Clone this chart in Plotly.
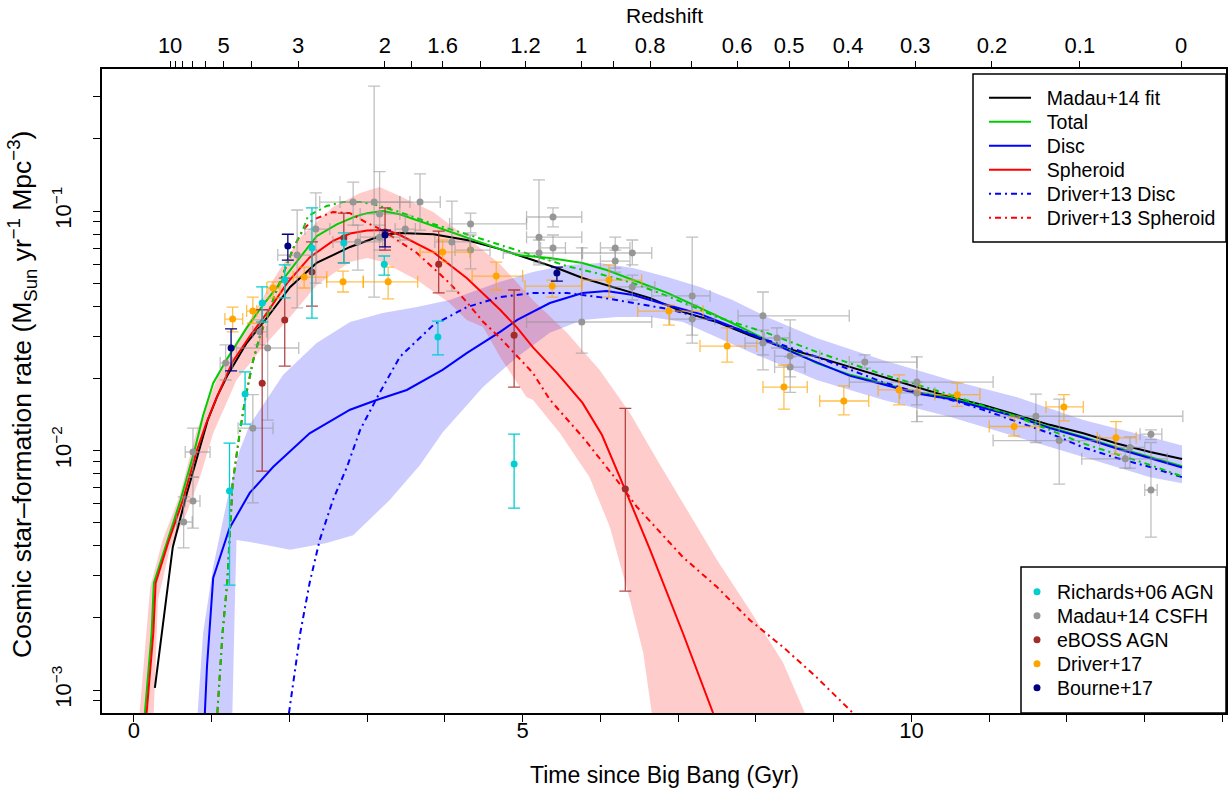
import numpy as np
import plotly.graph_objects as go

FONT = "Liberation Sans, Arial, Helvetica, sans-serif"

# ---------------- model curves: time since Big Bang (Gyr) vs SFR density ----------------
madau_t = [0.27, 0.50, 0.68, 0.85, 0.95, 1.07, 1.20, 1.45, 1.72, 2.01, 2.35, 2.78, 3.20, 3.42, 3.85,
           4.28, 4.71, 5.13, 5.44, 5.77, 6.21, 6.64, 7.06, 7.50, 7.92, 8.35, 8.78, 9.21, 9.63, 10.07,
           10.50, 10.92, 11.36, 11.78, 12.21, 12.64, 13.07, 13.48]
madau_y = [0.00102, 0.00395, 0.0066, 0.0103, 0.0134, 0.0168, 0.0205, 0.0281, 0.0361, 0.0482, 0.0607,
           0.0708, 0.0794, 0.0810, 0.0800, 0.0757, 0.0693, 0.0624, 0.0578, 0.0525, 0.0477, 0.0433,
           0.0379, 0.0344, 0.0303, 0.0270, 0.0246, 0.0223, 0.0203, 0.0184, 0.0167, 0.0155, 0.0141,
           0.0128, 0.0118, 0.0107, 0.00985, 0.00922]

total_t = [0.118, 0.228, 0.257, 0.42, 0.60, 0.78, 0.89, 1.02, 1.20, 1.45, 1.66, 1.92, 2.14, 2.35, 2.61,
           2.85, 3.00, 3.20, 3.42, 3.85, 4.28, 4.71, 4.93, 5.35, 5.77, 6.08, 6.42, 6.86, 7.28, 7.70,
           8.14, 8.57, 8.78, 9.21, 9.63, 10.07, 10.50, 10.92, 11.36, 11.78, 12.21, 12.64, 13.07, 13.48]
total_y = [0.00065, 0.00173, 0.0028, 0.00411, 0.00621, 0.0100, 0.0140, 0.0191, 0.0242, 0.0325, 0.0405,
           0.0520, 0.0645, 0.0785, 0.0880, 0.0950, 0.098, 0.100, 0.097, 0.0866, 0.0771, 0.0693, 0.0655,
           0.0637, 0.0607, 0.0567, 0.0515, 0.0455, 0.0394, 0.0340, 0.0289, 0.0251, 0.0232, 0.0207,
           0.0191, 0.0175, 0.0166, 0.0152, 0.0139, 0.0125, 0.0114, 0.0103, 0.0094, 0.0086]

disc_t = [0.90, 0.94, 1.02, 1.23, 1.49, 1.79, 2.26, 2.78, 3.13, 3.51, 3.97, 4.28, 4.71, 4.93, 5.35, 5.77,
          6.08, 6.42, 6.86, 7.28, 7.70, 8.14, 8.57, 9.21, 9.63, 10.07, 10.50, 10.92, 11.36, 11.78,
          12.21, 12.64, 13.07, 13.48]
disc_y = [0.00065, 0.00125, 0.00294, 0.00474, 0.00665, 0.00853, 0.0118, 0.0148, 0.0163, 0.0179, 0.0217,
          0.0255, 0.0313, 0.0351, 0.0413, 0.0455, 0.0464, 0.0446, 0.0405, 0.0372, 0.0328, 0.0287,
          0.0249, 0.0205, 0.0189, 0.0173, 0.0164, 0.0151, 0.0138, 0.0124, 0.0113, 0.0102, 0.0093, 0.0085]

sph_t = [0.14, 0.25, 0.28, 0.44, 0.63, 0.81, 0.93, 1.07, 1.27, 1.49, 1.71, 1.97, 2.26, 2.56, 2.78, 3.00,
         3.25, 3.42, 3.85, 4.28, 4.71, 4.93, 5.13, 5.44, 5.77, 6.02, 6.32, 6.64, 7.06, 7.45, 7.54]
sph_y = [0.00065, 0.00173, 0.0028, 0.00411, 0.00621, 0.0100, 0.0130, 0.0168, 0.0235, 0.0300, 0.0375,
         0.0500, 0.0640, 0.0750, 0.0805, 0.0830, 0.0833, 0.0794, 0.0674, 0.0525, 0.0387, 0.0325, 0.0270,
         0.0211, 0.0158, 0.0116, 0.00684, 0.00384, 0.00173, 0.00080, 0.00065]

# uncertainty bands
sph_band_up_t = [0.05, 0.21, 0.37, 0.59, 0.81, 1.11, 1.49, 1.79, 2.14, 2.56, 2.91, 3.16, 3.42, 3.85, 4.28,
                 4.71, 5.13, 5.57, 5.99, 6.38, 6.73, 7.06, 7.50, 7.92, 8.35, 8.63, 8.72]
sph_band_up_y = [0.00065, 0.00269, 0.00423, 0.0065, 0.0122, 0.0215, 0.0351, 0.0515, 0.0778, 0.104, 0.119,
                 0.126, 0.1156, 0.099, 0.0778, 0.060, 0.0425, 0.031, 0.0217, 0.01435, 0.00912, 0.00604,
                 0.00349, 0.00216, 0.0013, 0.00080, 0.00065]
sph_band_lo_t = [0.245, 0.31, 0.46, 0.68, 0.85, 1.02, 1.32, 1.66, 2.01, 2.35, 2.78, 3.00, 3.20, 3.64, 4.06,
                 4.28, 4.49, 4.71, 5.05, 5.13, 5.48, 5.86, 6.12, 6.38, 6.55, 6.66, 6.70]
sph_band_lo_y = [0.00065, 0.00238, 0.00385, 0.00548, 0.00774, 0.0118, 0.0197, 0.027, 0.0361, 0.049, 0.0612,
                 0.0637, 0.0612, 0.0515, 0.0413, 0.0351, 0.0328, 0.0246, 0.0167, 0.0163, 0.0118, 0.00774,
                 0.0048, 0.00238, 0.00143, 0.00080, 0.00065]

disc_band_up_t = [0.80, 0.89, 1.02, 1.20, 1.36, 1.49, 1.92, 2.35, 2.78, 3.20, 3.64, 4.06, 4.71, 5.13, 5.57,
                  5.99, 6.42, 6.86, 7.28, 7.70, 8.14, 8.78, 9.63, 10.50, 11.36, 12.21, 13.07, 13.48]
disc_band_up_y = [0.00065, 0.00173, 0.00327, 0.00621, 0.0100, 0.0128, 0.0207, 0.0281, 0.0344, 0.0375,
                  0.0397, 0.0425, 0.0506, 0.0556, 0.0595, 0.0607, 0.0578, 0.053, 0.0482, 0.0425, 0.0361,
                  0.0295, 0.0239, 0.0197, 0.0167, 0.0134, 0.0114, 0.0105]
disc_band_lo_t = [1.26, 1.30, 1.32, 1.49, 2.01, 2.48, 2.82, 3.29, 3.68, 3.97, 4.49, 4.93, 5.35, 5.77, 6.21,
                  6.64, 7.06, 7.50, 7.92, 8.78, 9.63, 10.50, 11.36, 12.21, 13.07, 13.48]
disc_band_lo_y = [0.00065, 0.00238, 0.00423, 0.00415, 0.00385, 0.00411, 0.00443, 0.00621, 0.00869, 0.0119,
                  0.0184, 0.0246, 0.031, 0.0351, 0.0361, 0.0361, 0.0344, 0.0298, 0.0258, 0.0197, 0.0163,
                  0.0138, 0.0114, 0.0094, 0.00774, 0.0073]

# Driver+13 decomposition
d13_disc_t = [1.955, 2.05, 2.14, 2.26, 2.39, 2.56, 2.74, 2.91, 3.13, 3.42, 3.85, 4.28, 4.71, 5.13, 5.57,
              5.99, 6.42, 6.86, 7.28, 7.70, 8.14, 8.35, 8.78, 9.21, 9.63, 10.07, 10.50, 10.92, 11.36,
              11.78, 12.21, 12.64, 13.07, 13.48]
d13_disc_y = [0.00065, 0.00107, 0.00173, 0.0028, 0.00423, 0.00621, 0.00853, 0.0122, 0.0167, 0.0246, 0.0334,
              0.0397, 0.0437, 0.0455, 0.0455, 0.0437, 0.0413, 0.039, 0.0361, 0.0328, 0.0289, 0.0275,
              0.0246, 0.0217, 0.0193, 0.0175, 0.0163, 0.0148, 0.0132, 0.0118, 0.0103, 0.0093, 0.00853,
              0.00774]
d13_sph_t = [1.055, 1.14, 1.20, 1.23, 1.27, 1.36, 1.43, 1.53, 1.62, 1.84, 1.92, 2.05, 2.17, 2.30, 2.56,
             2.78, 3.00, 3.20, 3.42, 3.64, 3.85, 4.06, 4.28, 4.49, 4.71, 5.13, 5.35, 5.77, 6.21, 6.47,
             7.06, 7.50, 7.92, 8.35, 8.78, 9.25, 9.34]
d13_sph_y = [0.00065, 0.00173, 0.0028, 0.0045, 0.0073, 0.0118, 0.0163, 0.0235, 0.030, 0.047, 0.055, 0.070,
             0.083, 0.092, 0.099, 0.098, 0.0891, 0.0833, 0.0743, 0.0668, 0.0578, 0.050, 0.0417, 0.0345,
             0.0295, 0.0211, 0.0163, 0.0114, 0.00753, 0.00581, 0.00359, 0.00269, 0.00196, 0.00151,
             0.00113, 0.00080, 0.00073]
d13_tot_t = [1.055, 1.14, 1.20, 1.23, 1.27, 1.36, 1.43, 1.53, 1.62, 1.84, 1.92, 2.05, 2.17, 2.24, 2.48,
             2.69, 2.91, 3.07, 3.42, 3.85, 4.28, 4.71, 5.13, 5.57, 5.99, 6.42, 6.86, 7.50, 8.14, 8.78,
             9.63, 10.50, 11.36, 12.21, 13.07, 13.48]
d13_tot_y = [0.00065, 0.00173, 0.0028, 0.0045, 0.0073, 0.0118, 0.0163, 0.0235, 0.030, 0.047, 0.055, 0.070,
             0.083, 0.0953, 0.105, 0.109, 0.109, 0.107, 0.099, 0.0883, 0.080, 0.0721, 0.0655, 0.0589,
             0.0546, 0.050, 0.0442, 0.0361, 0.031, 0.0258, 0.0208, 0.0171, 0.0138, 0.0107, 0.0087, 0.0078]

# ---------------- observational data ----------------
# Madau+14 CSFH compilation
mad_t = [0.64, 0.76, 0.76, 1.18, 1.53, 1.62, 1.72, 2.10, 2.34, 2.82, 2.88, 3.09, 3.16, 3.16, 3.49, 3.68,
         4.09, 4.33, 4.33, 5.21, 5.21, 5.39, 5.39, 5.76, 6.19, 6.19, 6.41, 6.41, 7.18, 7.18, 8.09, 8.09,
         8.27, 8.44, 8.44, 9.40, 10.07, 10.07, 11.60, 11.90, 12.75, 12.81, 13.08, 13.08]
mad_tlo = [0.55, 0.66, 0.66, 1.11, 1.34, 1.53, 1.32, 1.85, 2.20, 2.39, 2.56, 2.65, 2.91, 2.91, 3.36, 3.42,
           3.87, 4.06, 4.13, 5.05, 4.75, 5.05, 5.23, 5.05, 6.00, 6.00, 5.77, 6.12, 6.66, 6.89, 7.77, 7.86,
           8.11, 8.24, 8.24, 9.20, 9.20, 9.85, 10.07, 11.05, 12.19, 12.62, 12.94, 13.00]
mad_thi = [0.75, 0.85, 0.98, 1.27, 1.79, 1.71, 2.12, 2.35, 2.52, 3.42, 3.20, 3.55, 3.42, 3.42, 3.62, 3.94,
           4.32, 5.05, 4.58, 5.76, 5.76, 5.76, 5.55, 6.66, 6.38, 6.38, 6.66, 6.70, 7.41, 7.47, 9.20, 8.31,
           8.43, 8.82, 8.63, 10.07, 11.05, 10.30, 13.49, 12.42, 13.29, 13.00, 13.22, 13.16]
mad_y = [0.00503, 0.00615, 0.00986, 0.0232, 0.0124, 0.0313, 0.0268, 0.0655, 0.0841, 0.109, 0.0743, 0.109,
         0.0972, 0.0778, 0.0841, 0.109, 0.0743, 0.0883, 0.0687, 0.0778, 0.0668, 0.0944, 0.0701, 0.0344,
         0.0701, 0.0618, 0.0668, 0.0482, 0.0442, 0.0354, 0.0365, 0.0281, 0.0295, 0.0248, 0.0223, 0.0234,
         0.0193, 0.0174, 0.0139, 0.0110, 0.00923, 0.0103, 0.0117, 0.00684]
mad_ylo = [0.00392, 0.00474, 0.00774, 0.0197, 0.00604, 0.0276, 0.0134, 0.0394, 0.050, 0.0874, 0.0567,
           0.0437, 0.0757, 0.0687, 0.0757, 0.0833, 0.0463, 0.081, 0.0573, 0.0607, 0.0596, 0.0858, 0.0624,
           0.0255, 0.0578, 0.0556, 0.0596, 0.0425, 0.0281, 0.0303, 0.0217, 0.0251, 0.0268, 0.0175, 0.0203,
           0.0221, 0.0132, 0.0155, 0.0108, 0.00724, 0.00845, 0.00845, 0.0111, 0.00435]
mad_yhi = [0.0064, 0.00774, 0.0124, 0.0276, 0.0171, 0.0351, 0.0387, 0.101, 0.119, 0.132, 0.0874, 0.332,
           0.146, 0.0874, 0.0962, 0.143, 0.110, 0.098, 0.0794, 0.135, 0.0757, 0.103, 0.0794, 0.0701,
           0.0778, 0.0687, 0.0757, 0.054, 0.0778, 0.0405, 0.0459, 0.0318, 0.0325, 0.0351, 0.0246, 0.0251,
           0.0246, 0.0193, 0.0172, 0.0164, 0.0100, 0.0114, 0.0122, 0.0108]

# Driver+17
drv_t = [1.27, 1.53, 1.79, 2.19, 2.69, 3.27, 3.97, 4.66, 5.38, 6.11, 6.88, 7.63, 8.36, 9.13, 9.84, 10.59,
         11.32, 11.96, 12.63]
drv_tlo = [1.17, 1.45, 1.71, 2.05, 2.48, 2.95, 3.68, 4.35, 5.03, 5.76, 6.48, 7.28, 8.09, 8.82, 9.57, 10.30,
           11.00, 11.73, 12.39]
drv_thi = [1.40, 1.58, 1.88, 2.48, 2.95, 3.65, 4.32, 5.00, 5.76, 6.53, 7.32, 8.01, 8.66, 9.45, 10.11,
           10.88, 11.65, 12.21, 12.89]
drv_y = [0.0354, 0.0382, 0.0477, 0.053, 0.0506, 0.0506, 0.0674, 0.0535, 0.0486, 0.0515, 0.0382, 0.0273,
         0.0184, 0.0161, 0.0179, 0.0171, 0.0126, 0.0152, 0.0113]
drv_ylo = [0.0313, 0.034, 0.0434, 0.0477, 0.0459, 0.043, 0.0612, 0.0468, 0.0437, 0.0437, 0.0334, 0.0234,
           0.0149, 0.0141, 0.0155, 0.0153, 0.0115, 0.0133, 0.00966]
drv_yhi = [0.0397, 0.0437, 0.0506, 0.0583, 0.0561, 0.0583, 0.0757, 0.0612, 0.0515, 0.0596, 0.0405, 0.0325,
           0.0227, 0.0186, 0.0207, 0.0191, 0.0137, 0.0171, 0.0132]

# Richards+06 AGN
ric_t = [1.23, 1.43, 1.65, 1.94, 2.29, 2.70, 3.22, 3.91, 4.89]
ric_y = [0.00678, 0.0172, 0.0413, 0.0515, 0.0701, 0.0735, 0.060, 0.0298, 0.00879]
ric_ylo = [0.00274, 0.0129, 0.0344, 0.0434, 0.0357, 0.0607, 0.054, 0.0251, 0.00575]
ric_yhi = [0.01074, 0.0213, 0.0482, 0.0596, 0.103, 0.081, 0.0649, 0.0347, 0.0117]

# eBOSS AGN
ebo_t = [1.65, 1.94, 2.29, 2.70, 3.23, 3.92, 4.89, 6.32]
ebo_y = [0.0191, 0.0351, 0.0556, 0.0771, 0.0817, 0.060, 0.0303, 0.0069]
ebo_ylo = [0.0082, 0.0225, 0.0401, 0.0607, 0.0687, 0.0455, 0.0184, 0.00259]
ebo_yhi = [0.0387, 0.0525, 0.0743, 0.098, 0.103, 0.0824, 0.0468, 0.0150]

# Bourne+17
bou_t = [1.25, 1.98, 3.23, 5.44]
bou_y = [0.0268, 0.0714, 0.0794, 0.0551]
bou_ylo = [0.0215, 0.0624, 0.0708, 0.051]
bou_yhi = [0.0322, 0.080, 0.0833, 0.0583]

# axis ticks
time_ticks = list(range(15))
time_labels = ["0", "", "", "", "", "5", "", "", "", "", "10", "", "", "", ""]
z_ticks = [10, 9, 8, 7, 6, 5, 4, 3, 2, 1.8, 1.6, 1.4, 1.2, 1, 0.9, 0.8, 0.7, 0.6, 0.5, 0.4, 0.3, 0.2, 0.1, 0]
z_labels = ["10", "", "", "", "", "5", "", "3", "2", "", "1.6", "", "1.2", "1", "", "0.8", "", "0.6",
            "0.5", "0.4", "0.3", "0.2", "0.1", "0"]


def age_gyr(z, H0=70.0, Om=0.3):
    """Age of a flat LCDM universe at redshift z (Gyr)."""
    OL = 1.0 - Om
    tH = 977.792 / H0
    z = np.asarray(z, dtype=float)
    return tH * 2.0 / (3.0 * np.sqrt(OL)) * np.arcsinh(np.sqrt(OL / Om) * (1.0 + z) ** -1.5)


XR = [-0.41, 14.045]
YR = [-3.096, -0.407]

GREEN = "#00CD00"
DD = "2px,4px,6px,4px"
TICKSIZE = 22
PAD = "\u00a0\u00a0"   # gap between line sample and text in the upper legend

fig = go.Figure()


def add_band(tu, yu, tl, yl, color):
    fig.add_trace(go.Scatter(x=list(tu) + list(tl)[::-1], y=list(yu) + list(yl)[::-1], mode="lines",
                             fill="toself", fillcolor=color, line=dict(width=0), hoverinfo="skip",
                             showlegend=False))


add_band(disc_band_up_t, disc_band_up_y, disc_band_lo_t, disc_band_lo_y, "rgba(0,0,255,0.2)")
add_band(sph_band_up_t, sph_band_up_y, sph_band_lo_t, sph_band_lo_y, "rgba(255,0,0,0.2)")


def add_line(t, y, color, name=None, legend=None, dash="solid"):
    fig.add_trace(go.Scatter(x=t, y=y, mode="lines", line=dict(color=color, width=2, dash=dash),
                             name=(PAD + name) if name else None, legend=legend if legend else "legend",
                             showlegend=legend is not None, hoverinfo="skip"))


add_line(madau_t, madau_y, "black", "Madau+14 fit", "legend")
add_line(total_t, total_y, GREEN, "Total", "legend2")
add_line(disc_t, disc_y, "blue", "Disc", "legend3")
add_line(sph_t, sph_y, "red", "Spheroid", "legend4")
add_line(d13_disc_t, d13_disc_y, "blue", "Driver+13 Disc", "legend5", DD)
add_line(d13_sph_t, d13_sph_y, "red", "Driver+13 Spheroid", "legend6", DD)
add_line(d13_tot_t, d13_tot_y, GREEN, None, None, DD)


def add_points(t, y, ylo, yhi, color, ecolor, name, legend, tlo=None, thi=None):
    t = np.asarray(t); y = np.asarray(y)
    ey = dict(type="data", symmetric=False, array=np.asarray(yhi) - y, arrayminus=y - np.asarray(ylo),
              color=ecolor, thickness=1.3, width=6)
    ex = None
    if tlo is not None:
        ex = dict(type="data", symmetric=False, array=np.asarray(thi) - t, arrayminus=t - np.asarray(tlo),
                  color=ecolor, thickness=1.3, width=6)
    fig.add_trace(go.Scatter(x=t, y=y, mode="markers", marker=dict(color=color, size=7),
                             error_y=ey, error_x=ex, name=name, legend=legend, showlegend=True))


add_points(mad_t, mad_y, mad_ylo, mad_yhi, "rgb(150,150,150)", "rgba(150,150,150,0.6)",
           "Madau+14 CSFH", "legend8", mad_tlo, mad_thi)
add_points(drv_t, drv_y, drv_ylo, drv_yhi, "rgb(255,165,0)", "rgba(255,165,0,0.7)",
           "Driver+17", "legend10", drv_tlo, drv_thi)
add_points(ebo_t, ebo_y, ebo_ylo, ebo_yhi, "rgb(165,42,42)", "rgba(165,42,42,0.85)", "eBOSS AGN", "legend9")
add_points(ric_t, ric_y, ric_ylo, ric_yhi, "rgb(0,206,209)", "rgb(0,206,209)", "Richards+06 AGN", "legend7")
add_points(bou_t, bou_y, bou_ylo, bou_yhi, "rgb(0,0,128)", "rgb(0,0,128)", "Bourne+17", "legend11")

# empty trace so the redshift axis is created
fig.add_trace(go.Scatter(x=[], y=[], xaxis="x2", showlegend=False))

# y ticks
ytick_vals, ytick_text = [], []
for e in (-4, -3, -2, -1):
    for m in range(1, 10):
        v = m * 10.0 ** e
        if 8.0e-4 <= v <= 0.39:
            ytick_vals.append(v)
            ytick_text.append("10<sup>\u2212%d</sup>" % (-e) if m == 1 else "")

axis_common = dict(ticks="outside", ticklen=7, tickwidth=1.2, tickcolor="black", showgrid=False,
                   zeroline=False, tickfont=dict(family=FONT, size=TICKSIZE, color="black"))

# legends: one entry each, placed row by row inside the two boxes
L_W = 1124.0
L_H = 644.0
legends = {}
top_rows = [98, 122, 146, 170, 194, 218]
bot_rows = [592, 616, 640, 664, 688]
for i, py in enumerate(top_rows):
    key = "legend" if i == 0 else "legend%d" % (i + 1)
    legends[key] = dict(x=(984 - 102) / L_W, y=(713 - py) / L_H, xanchor="left", yanchor="middle",
                        bgcolor="rgba(0,0,0,0)", borderwidth=0, itemwidth=42,
                        font=dict(family=FONT, size=19.5, color="black"))
for i, py in enumerate(bot_rows):
    key = "legend%d" % (i + 7)
    legends[key] = dict(x=(1017 - 102) / L_W, y=(713 - py) / L_H, xanchor="left", yanchor="middle",
                        bgcolor="rgba(0,0,0,0)", borderwidth=0, itemwidth=30,
                        font=dict(family=FONT, size=19.5, color="black"))

fig.update_layout(
    width=1230, height=792,
    margin=dict(l=102, r=4, t=69, b=79, pad=0, autoexpand=False),
    paper_bgcolor="white", plot_bgcolor="white",
    font=dict(family=FONT, size=20, color="black"),
    xaxis=dict(range=XR, tickmode="array", tickvals=time_ticks, ticktext=time_labels,
               ticklabelstandoff=-10, automargin=False,
               showline=True, linecolor="black", linewidth=2, mirror=True, **axis_common),
    xaxis2=dict(range=XR, overlaying="x", side="top", anchor="y", tickmode="array",
                tickvals=age_gyr(z_ticks).tolist(), ticktext=z_labels, showline=False,
                ticklabelstandoff=-1, automargin=False, **axis_common),
    yaxis=dict(type="log", range=YR, tickmode="array", tickvals=ytick_vals, ticktext=ytick_text,
               tickangle=-90, ticklabelstandoff=13, automargin=False,
               showline=True, linecolor="black", linewidth=2, mirror=True, **axis_common),
    showlegend=True,
    shapes=[
        dict(type="rect", xref="paper", yref="paper", x0=(973 - 102) / L_W, x1=1.0,
             y0=(713 - 242) / L_H, y1=(713 - 74) / L_H, line=dict(color="black", width=1.5),
             fillcolor="white", layer="above"),
        dict(type="rect", xref="paper", yref="paper", x0=(1021 - 102) / L_W, x1=1.0,
             y0=0.0, y1=(713 - 567) / L_H, line=dict(color="black", width=1.5),
             fillcolor="white", layer="above"),
    ],
    annotations=[
        dict(text="Time since Big Bang (Gyr)", xref="paper", yref="paper", x=0.5, y=0, yanchor="middle",
             yshift=-62, showarrow=False, font=dict(family=FONT, size=23)),
        dict(text="Redshift", xref="paper", yref="paper", x=0.5, y=1, yanchor="middle",
             yshift=54, showarrow=False, font=dict(family=FONT, size=21)),
        dict(text="Cosmic star\u2013formation rate (M<sub>Sun</sub> yr<sup>\u22121</sup> Mpc<sup>\u22123</sup>)",
             xref="paper", yref="paper", x=0, y=0.5, xanchor="center", yanchor="middle", xshift=-80,
             yshift=-4, textangle=-90, showarrow=False, font=dict(family=FONT, size=26.5)),
    ],
    **legends,
)

fig.write_html("out.html", config={"displayModeBar": False},
               post_script="document.body.style.margin='0px';document.body.style.padding='0px';")
